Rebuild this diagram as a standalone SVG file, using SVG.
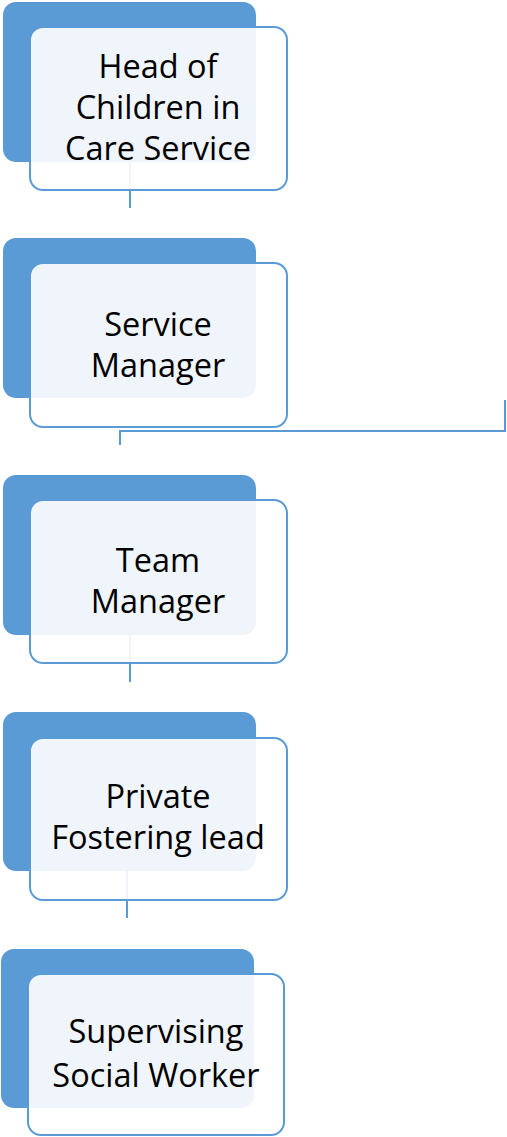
<svg xmlns="http://www.w3.org/2000/svg" width="507" height="1137" viewBox="0 0 507 1137">
  <style>
    .back { fill: #5B9BD5; }
    .front { fill: #ffffff; fill-opacity: 0.9; stroke: #5B9BD5; stroke-width: 2; }
    .conn { fill: none; stroke: #5B9BD5; stroke-width: 2; }
    .lbl { font-family: "Open Sans", "Liberation Sans", Arial, sans-serif; font-size: 32.5px; fill: #000000; text-anchor: middle; }
  </style>
  <rect width="507" height="1137" fill="#ffffff"/>
  <g id="connectors">
    <line class="conn" x1="130" y1="161" x2="130" y2="208"/>
    <polyline class="conn" points="120,445 120,431 505,431 505,400"/>
    <line class="conn" x1="130" y1="634" x2="130" y2="682"/>
    <line class="conn" x1="127" y1="871" x2="127" y2="918"/>
  </g>
  <g id="node-head">
    <rect class="back" x="3" y="2" width="253" height="160" rx="13"/>
    <rect class="front" x="30" y="27" width="257" height="163" rx="13"/>
    <text class="lbl" x="158" y="78">Head of</text>
    <text class="lbl" x="158" y="119">Children in</text>
    <text class="lbl" x="158" y="160">Care Service</text>
  </g>
  <g id="node-service-manager">
    <rect class="back" x="3" y="238" width="253" height="160" rx="13"/>
    <rect class="front" x="30" y="263" width="257" height="164" rx="13"/>
    <text class="lbl" x="158" y="336">Service</text>
    <text class="lbl" x="158" y="377">Manager</text>
  </g>
  <g id="node-team-manager">
    <rect class="back" x="3" y="475" width="253" height="160" rx="13"/>
    <rect class="front" x="30" y="500" width="257" height="163" rx="13"/>
    <text class="lbl" x="158" y="572">Team</text>
    <text class="lbl" x="158" y="613">Manager</text>
  </g>
  <g id="node-private-fostering">
    <rect class="back" x="3" y="712" width="253" height="159" rx="13"/>
    <rect class="front" x="30" y="738" width="257" height="162" rx="13"/>
    <text class="lbl" x="158" y="808">Private</text>
    <text class="lbl" x="158" y="849">Fostering lead</text>
  </g>
  <g id="node-supervising">
    <rect class="back" x="1" y="949" width="253" height="159" rx="13"/>
    <rect class="front" x="28" y="974" width="256" height="161" rx="13"/>
    <text class="lbl" x="156" y="1043">Supervising</text>
    <text class="lbl" x="156" y="1087">Social Worker</text>
  </g>
</svg>
